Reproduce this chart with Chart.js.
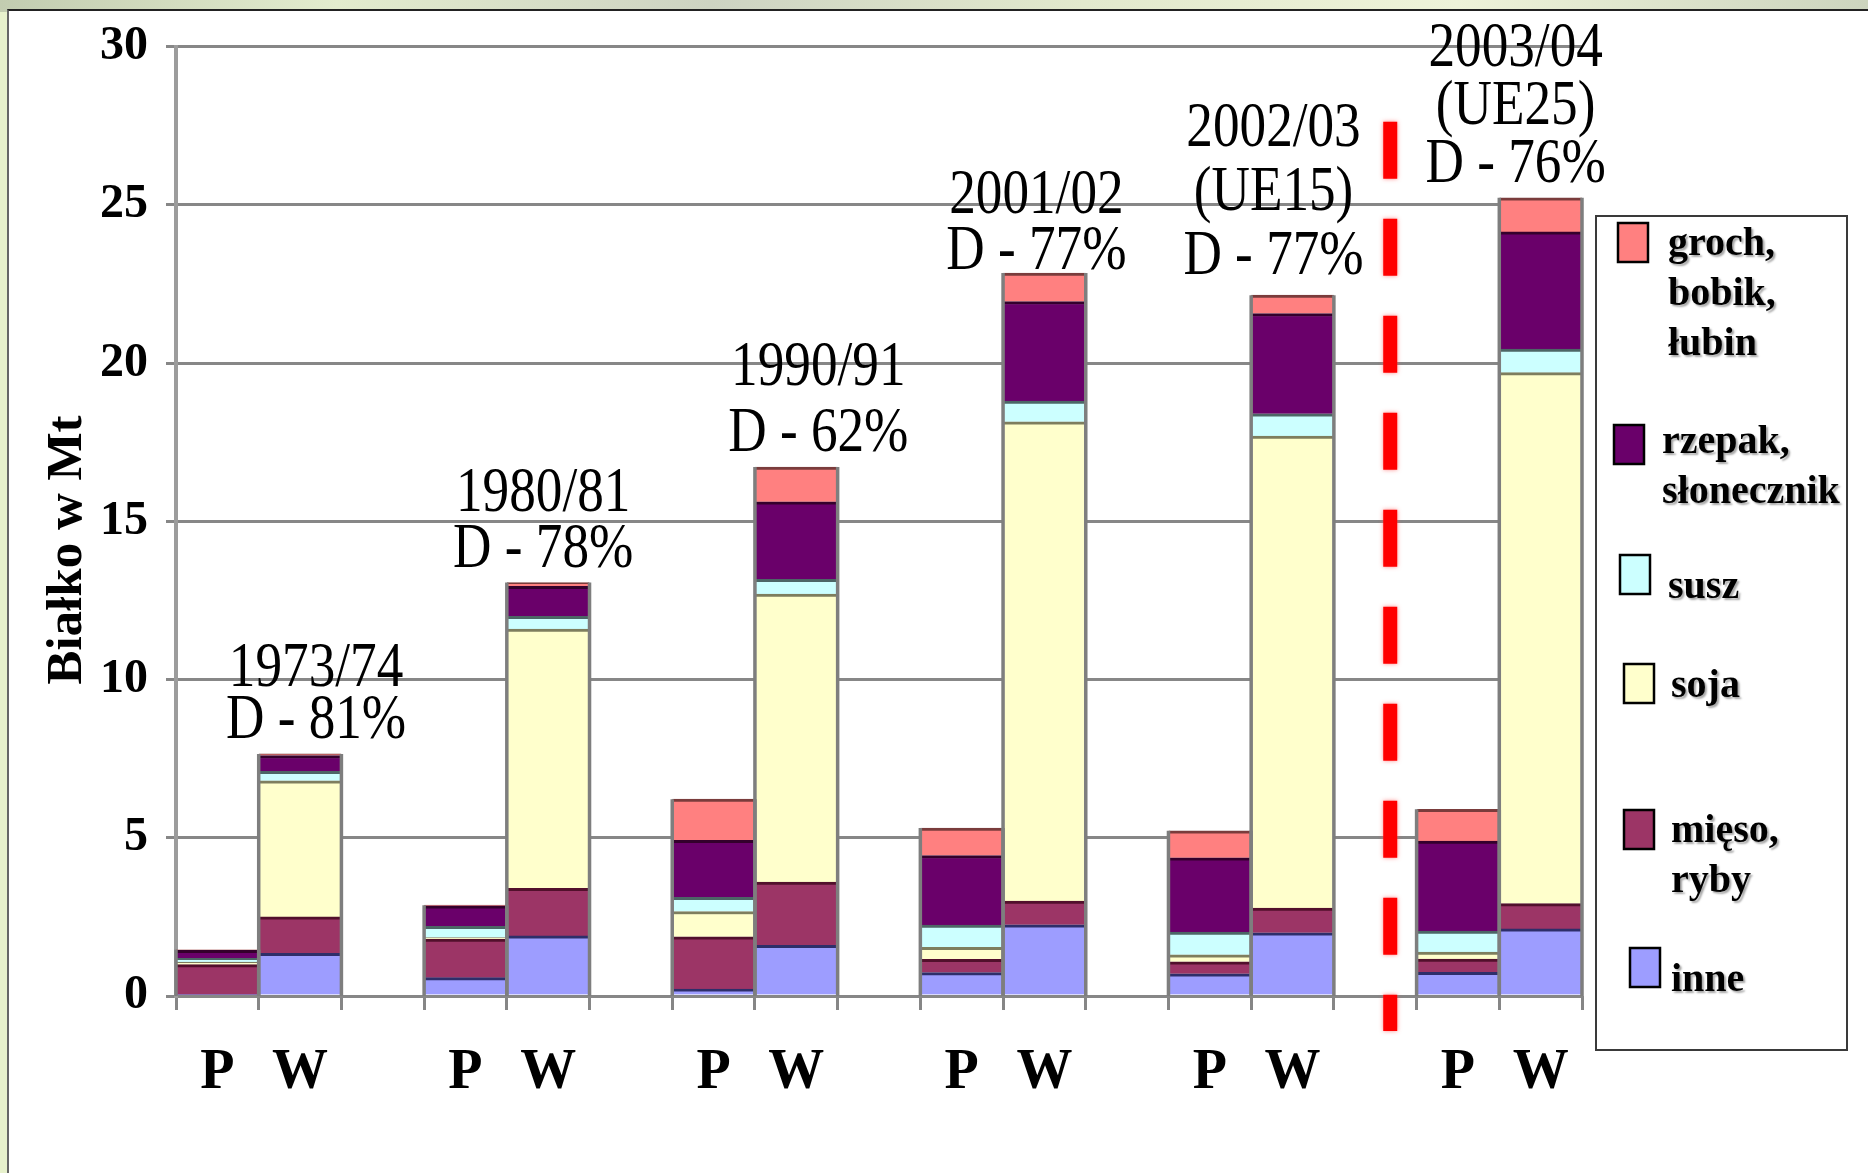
<!DOCTYPE html>
<html lang="pl">
<head>
<meta charset="utf-8">
<title>Białko w paszach – produkcja i wykorzystanie</title>
<script src="https://cdn.jsdelivr.net/npm/chart.js@4.4.1/dist/chart.umd.min.js"></script>
<style>
  html, body { margin: 0; padding: 0; width: 1868px; height: 1173px; overflow: hidden; }
  body {
    background-color: #e7f1cc;
    background-image: linear-gradient(90deg, #c2ccb0 0%, #e3ecce 18%, #cdd3c2 38%, #e2e9cd 58%, #eef3d9 78%, #ccd4be 100%);
    background-size: 100% 12px;
    background-repeat: no-repeat;
  }
  #sheet {
    position: absolute; left: 7px; top: 9px; right: 0; bottom: 0;
    background: #fff; border-left: 2px solid #666; border-top: 2px solid #222;
  }
  #chart { position: absolute; left: 0; top: 0; }
</style>
</head>
<body>
<div id="sheet"></div>
<canvas id="chart" width="1868" height="1173"></canvas>
<script>
// Seasons and the text printed above each pair of columns
const seasons = ['1973/74', '1980/81', '1990/91', '2001/02', '2002/03', '2003/04'];
const scope   = ['', '', '', '', '(UE15)', '(UE25)'];
const deficit = ['D - 81%', 'D - 78%', 'D - 62%', 'D - 77%', 'D - 77%', 'D - 76%'];

// Column labels inside each season: P = produkcja, W = wykorzystanie
const sides = ['P', 'W'];

// Value axis ticks (Mt of protein)
const yTicks = [0, 5, 10, 15, 20, 25, 30];
const yTitle = 'Białko w Mt';

// Protein by source, Mt – pairs of P, W for each season
const inne   = [0.04, 1.35, 0.58, 1.90, 0.22, 1.60, 0.74, 2.25, 0.70, 2.00, 0.75, 2.12];
const mieso  = [0.95, 1.15, 1.22, 1.50, 1.65, 2.00, 0.42, 0.75, 0.38, 0.78, 0.42, 0.80];
const soja   = [0.08, 4.30, 0.05, 8.20, 0.80, 9.10, 0.38, 15.15, 0.22, 14.92, 0.22, 16.78];
const susz   = [0.12, 0.30, 0.35, 0.40, 0.45, 0.47, 0.70, 0.65, 0.72, 0.70, 0.66, 0.75];
const rzepak = [0.25, 0.50, 0.65, 0.95, 1.80, 2.45, 2.20, 3.15, 2.35, 3.17, 2.85, 3.70];
const groch  = [0.02, 0.05, 0.02, 0.12, 1.30, 1.10, 0.87, 0.90, 0.85, 0.58, 1.00, 1.08];

// Season where the EU25 figures begin (divider drawn before it)
const eu25From = 5;

const SERIF = '"Liberation Serif", "Times New Roman", serif';

// Caption placement tweaks in px (layout only)
const captionShiftX = [16, -5, 22, -8, -19, -25];
const captionShiftY = [0, 0, 0, 12, -6, 0];
const captionLineH  = [52, 56, 66, 56, 64, 58];

// Category slots: P, W for each season, with one empty slot between seasons
const labels = [];
seasons.forEach((s, g) => {
  if (g > 0) labels.push('');
  sides.forEach(side => labels.push(side));
});
function spread(values) {
  const out = [];
  seasons.forEach((s, g) => {
    if (g > 0) out.push(null);
    out.push(values[2 * g], values[2 * g + 1]);
  });
  return out;
}
const wSlot = g => 3 * g + 1;

const series = [
  { label: 'inne',                data: inne,   fill: '#9d9dff', edge: '#2e2e6a' },
  { label: 'mięso, ryby',         data: mieso,  fill: '#9c3566', edge: '#52102c' },
  { label: 'soja',                data: soja,   fill: '#ffffcc', edge: '#7e7e5e' },
  { label: 'susz',                data: susz,   fill: '#ccffff', edge: '#4c6666' },
  { label: 'rzepak, słonecznik',  data: rzepak, fill: '#6a006a', edge: '#34002c' },
  { label: 'groch, bobik, łubin', data: groch,  fill: '#ff8080', edge: '#7a3c3c' }
];

const datasets = series.map(s => ({
  label: s.label,
  data: spread(s.data),
  backgroundColor: s.fill,
  borderColor: s.edge,
  borderWidth: { top: 3, right: 0, bottom: 0, left: 0 },
  borderSkipped: false,
  barPercentage: 1,
  categoryPercentage: 1
}));

// top pixel and geometry of a stacked column
function columnAt(chart, i) {
  let top = null, x = 0, w = 0;
  chart.getSortedVisibleDatasetMetas().forEach(m => {
    const el = m.data[i];
    const v = chart.data.datasets[m.index].data[i];
    if (el && v !== null && v !== undefined) {
      top = top === null ? el.y : Math.min(top, el.y);
      x = el.x; w = el.width;
    }
  });
  return top === null ? null : { top, x, w };
}

// grey side edges of every column
const columnEdges = {
  id: 'columnEdges',
  afterDatasetsDraw(chart) {
    const ctx = chart.ctx;
    const base = chart.scales.y.getPixelForValue(0);
    ctx.save();
    ctx.strokeStyle = '#7e7e7e';
    ctx.lineWidth = 3.5;
    for (let i = 0; i < chart.data.labels.length; i++) {
      const c = columnAt(chart, i);
      if (!c) continue;
      ctx.beginPath();
      ctx.moveTo(c.x - c.w / 2, c.top); ctx.lineTo(c.x - c.w / 2, base);
      ctx.moveTo(c.x + c.w / 2, c.top); ctx.lineTo(c.x + c.w / 2, base);
      ctx.stroke();
    }
    ctx.restore();
  }
};

// season captions above the W column (narrow, tall serif figures)
const seasonCaptions = {
  id: 'seasonCaptions',
  afterDatasetsDraw(chart) {
    const ctx = chart.ctx;
    seasons.forEach((s, g) => {
      const c = columnAt(chart, wSlot(g));
      if (!c) return;
      const lines = [s, scope[g], deficit[g]].filter(t => t);
      const lineH = captionLineH[g];
      let y = c.top - 32 + captionShiftY[g];
      for (let k = lines.length - 1; k >= 0; k--) {
        ctx.save();
        ctx.translate(c.x + captionShiftX[g], y);
        ctx.scale(0.95, 1.12);
        ctx.fillStyle = '#000';
        ctx.font = '56px ' + SERIF;
        ctx.textAlign = 'center';
        ctx.textBaseline = 'middle';
        ctx.fillText(lines[k], 0, 0);
        ctx.restore();
        y -= lineH;
      }
    });
  }
};

// red dashed divider before the EU25 season
const euDivider = {
  id: 'euDivider',
  afterDatasetsDraw(chart) {
    const { ctx, chartArea } = chart;
    const x = chart.scales.x.getPixelForValue(wSlot(eu25From) - 2) + 15;
    ctx.save();
    ctx.strokeStyle = '#ff0000';
    ctx.lineWidth = 14;
    ctx.setLineDash([57, 40]);
    ctx.shadowColor = 'rgba(255, 90, 90, 0.7)';
    ctx.shadowBlur = 4;
    ctx.beginPath();
    ctx.moveTo(x, chartArea.top + 75);
    ctx.lineTo(x, chartArea.bottom + 35);
    ctx.stroke();
    ctx.restore();
  }
};

// vertical value-axis title
const axisTitle = {
  id: 'axisTitle',
  afterDraw(chart) {
    const ctx = chart.ctx;
    ctx.save();
    ctx.translate(68, 550);
    ctx.rotate(-Math.PI / 2);
    ctx.fillStyle = '#000';
    ctx.font = 'bold 51px ' + SERIF;
    ctx.textAlign = 'center';
    ctx.textBaseline = 'middle';
    ctx.fillText(yTitle, 0, 0);
    ctx.restore();
  }
};

// boxed legend on the right, top item = top of the stack
const sideLegend = {
  id: 'sideLegend',
  afterDraw(chart) {
    const ctx = chart.ctx;
    const box = { x: 1596, y: 216, w: 251, h: 834 };
    const slots = [
      { sx: 1618, sy: 223, tx: 1668, ty: 255 },
      { sx: 1614, sy: 425, tx: 1662, ty: 453 },
      { sx: 1620, sy: 555, tx: 1668, ty: 598 },
      { sx: 1624, sy: 664, tx: 1671, ty: 697 },
      { sx: 1624, sy: 810, tx: 1671, ty: 842 },
      { sx: 1630, sy: 948, tx: 1671, ty: 991 }
    ];
    ctx.save();
    ctx.fillStyle = '#fff';
    ctx.fillRect(box.x, box.y, box.w, box.h);
    ctx.strokeStyle = '#3a3a3a';
    ctx.lineWidth = 2;
    ctx.strokeRect(box.x, box.y, box.w, box.h);
    const items = chart.data.datasets.slice().reverse();
    items.forEach((ds, k) => {
      const p = slots[k];
      ctx.fillStyle = ds.backgroundColor;
      ctx.fillRect(p.sx, p.sy, 30, 39);
      ctx.strokeStyle = '#000';
      ctx.lineWidth = 2.5;
      ctx.strokeRect(p.sx, p.sy, 30, 39);
      ctx.font = 'bold 40px ' + SERIF;
      ctx.textAlign = 'left';
      ctx.textBaseline = 'alphabetic';
      ctx.shadowColor = 'rgba(0,0,0,0.35)';
      ctx.shadowOffsetX = 2;
      ctx.shadowOffsetY = 2;
      ctx.shadowBlur = 2;
      ctx.fillStyle = '#000';
      ds.label.split(' ').forEach((line, j) => {
        ctx.fillText(line, p.tx, p.ty + j * 50);
      });
      ctx.shadowColor = 'transparent';
    });
    ctx.restore();
  }
};

new Chart(document.getElementById('chart'), {
  type: 'bar',
  data: { labels, datasets },
  options: {
    responsive: false,
    animation: false,
    devicePixelRatio: 1,
    layout: { padding: { top: 42, right: 286, bottom: 0, left: 0 } },
    plugins: {
      legend: { display: false },
      tooltip: { enabled: false }
    },
    scales: {
      x: {
        stacked: true,
        offset: true,
        grid: {
          offset: true,
          drawOnChartArea: false,
          drawTicks: true,
          tickLength: 14,
          color: '#868686',
          lineWidth: 3
        },
        border: { display: false },
        ticks: {
          autoSkip: false,
          maxRotation: 0,
          color: '#000',
          padding: 30,
          font: { family: SERIF, size: 56, weight: 'bold' }
        },
        afterFit(scale) { scale.height = 177; }
      },
      y: {
        stacked: true,
        min: yTicks[0],
        max: yTicks[yTicks.length - 1],
        ticks: {
          stepSize: yTicks[1] - yTicks[0],
          color: '#000',
          padding: 18,
          font: { family: SERIF, size: 48, weight: 'bold' }
        },
        grid: { color: '#878787', lineWidth: 3, tickLength: 10 },
        border: { color: '#9c9c9c', width: 4 },
        afterFit(scale) { scale.width = 176; }
      }
    }
  },
  plugins: [columnEdges, seasonCaptions, euDivider, axisTitle, sideLegend]
});
</script>
</body>
</html>
